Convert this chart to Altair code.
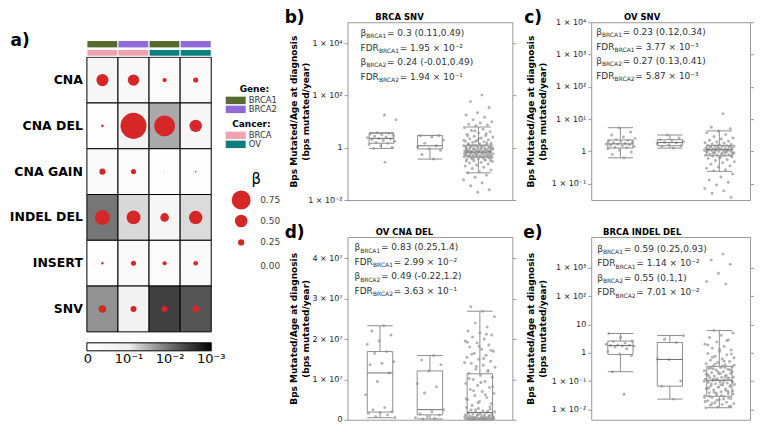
import altair as alt
import pandas as pd

FONT = "DejaVu Sans"
GROUPS = ["BRCA1", "BRCA2", "WT"]

# ---------------- panel a : beta (circle size) and FDR (cell shade) ----------------
rows = ["CNA", "CNA DEL", "CNA GAIN", "INDEL DEL", "INSERT", "SNV"]
col_keys = ["BRCA1 / BRCA", "BRCA2 / BRCA", "BRCA1 / OV", "BRCA2 / OV"]
col_gene = ["BRCA1", "BRCA2", "BRCA1", "BRCA2"]
col_cancer = ["BRCA", "BRCA", "OV", "OV"]
gene_names = ["BRCA1", "BRCA2"]
gene_colors = ["#566b2e", "#8e6bd6"]
cancer_names = ["BRCA", "OV"]
cancer_colors = ["#eda3b0", "#0b7f7f"]
cbar_labels = ["0", "10⁻¹", "10⁻²", "10⁻³"]

beta_cna = [0.48, 0.45, 0.17, 0.20]
beta_cna_del = [0.10, 1.03, 0.83, 0.49]
beta_cna_gain = [0.24, 0.20, -0.03, 0.06]
beta_indel_del = [0.59, 0.55, 0.34, 0.53]
beta_insert = [0.10, 0.20, 0.16, 0.18]
beta_snv = [0.30, 0.24, 0.23, 0.27]

fdr_cna = [0.35, 0.40, 0.60, 0.50]
fdr_cna_del = [0.80, 0.20, 0.0299, 0.363]
fdr_cna_gain = [0.50, 0.60, 0.90, 0.80]
fdr_indel_del = [0.0114, 0.0701, 0.30, 0.072]
fdr_insert = [0.80, 0.50, 0.60, 0.50]
fdr_snv = [0.0195, 0.194, 0.00377, 0.00587]

beta_rows = [beta_cna, beta_cna_del, beta_cna_gain, beta_indel_del, beta_insert, beta_snv]
fdr_rows = [fdr_cna, fdr_cna_del, fdr_cna_gain, fdr_indel_del, fdr_insert, fdr_snv]

# ---------------- panel b : BRCA SNV ----------------
b_brca1 = [0.28, 0.95, 1.05, 1.2, 1.35, 1.5, 1.6, 1.75, 1.9, 2.05, 2.2, 2.3, 2.45, 2.6, 2.8, 3.0,
           3.2, 3.4, 3.6, 3.8, 12, 18]
b_brca2 = [0.37, 0.55, 0.8, 0.93, 1.1, 1.2, 1.5, 2.0, 2.6, 2.9, 3.0]
b_wt = [107, 60, 35, 22, 18, 15, 12, 10, 9, 8, 7.5, 7,
        6.0, 5.2, 4.6, 4.1, 3.7, 3.3, 3.0, 2.8, 2.6, 2.4, 2.2, 2.05, 1.9, 1.8, 1.7, 1.6, 1.5, 1.42,
        1.35, 1.3, 1.24, 1.2, 1.15, 1.1, 1.05, 1.0, 0.97, 0.94, 0.91, 0.88, 0.85, 0.82, 0.8, 0.78,
        0.76, 0.74, 0.72, 0.7, 0.68, 0.66, 0.64, 0.62, 0.6, 0.59, 0.57, 0.56, 0.55, 0.53, 0.52,
        0.51, 0.5, 0.49, 0.48, 0.47, 0.46, 0.455, 0.44, 0.42, 0.4, 0.38, 0.36, 0.34, 0.32, 0.3,
        0.28, 0.26, 0.24, 0.22, 0.2, 0.18, 0.16, 0.14, 0.12, 0.11, 0.09, 0.075, 0.06, 0.045,
        0.035, 0.025, 0.02, 0.31, 0.35, 0.39, 0.43, 0.47, 0.5, 0.54, 0.58, 0.61, 0.65, 0.67,
        0.71, 0.75, 0.79, 0.83, 0.87, 0.9, 0.95, 0.99, 1.03, 1.08, 1.13, 1.18, 1.22, 1.28, 1.33,
        1.45, 1.55, 1.75, 1.95, 0.63, 0.69, 0.73, 0.77, 0.81, 0.86, 0.92, 1.01, 1.11, 1.26,
        0.45, 0.52, 0.58, 0.41, 0.37, 0.33, 2.3, 2.9, 3.5, 4.4]
b_q1 = [1.5, 0.91, 0.45]
b_med = [2.3, 1.2, 0.69]
b_q3 = [3.6, 2.95, 1.26]
b_lo = [0.95, 0.37, 0.11]
b_hi = [3.8, 3.0, 6.3]
b_lines = [("β", "BRCA1", "= 0.3 (0.11,0.49)"), ("FDR", "BRCA1", "= 1.95 × 10⁻²"),
           ("β", "BRCA2", "= 0.24 (-0.01,0.49)"), ("FDR", "BRCA2", "= 1.94 × 10⁻¹")]

# ---------------- panel c : OV SNV ----------------
c_brca1 = [0.63, 0.8, 0.95, 1.1, 1.2, 1.3, 1.35, 1.4, 1.5, 1.55, 1.6, 1.65, 1.7, 1.75, 1.85,
           1.95, 2.0, 2.1, 2.2, 2.3, 2.5, 2.8, 3.2, 4.0, 5.4]
c_brca2 = [1.26, 1.4, 1.5, 1.6, 1.75, 1.85, 1.9, 2.0, 2.15, 2.3, 2.6, 3.2]
c_wt = [14.7, 5.6, 5.0, 4.3, 3.8, 3.3, 2.9, 2.6, 2.4, 2.2, 2.05, 1.95, 1.85, 1.78, 1.7, 1.65,
        1.6, 1.55, 1.5, 1.47, 1.44, 1.41, 1.38, 1.35, 1.32, 1.29, 1.26, 1.23, 1.2, 1.18, 1.16,
        1.14, 1.13, 1.1, 1.07, 1.04, 1.01, 0.98, 0.95, 0.92, 0.89, 0.86, 0.83, 0.81, 0.79, 0.77,
        0.75, 0.74, 0.72, 0.68, 0.64, 0.6, 0.56, 0.52, 0.48, 0.44, 0.4, 0.36, 0.33, 0.3, 0.27,
        0.25, 0.2, 0.16, 0.13, 0.11, 0.09, 0.07, 0.06, 0.05, 0.038, 1.25, 1.15, 1.05, 0.97,
        0.9, 0.85, 1.33, 1.42, 1.48, 1.02, 0.93, 0.87, 0.7, 0.66, 1.12, 1.08, 1.19]
c_q1 = [1.27, 1.5, 0.73]
c_med = [1.7, 1.87, 1.12]
c_q3 = [2.25, 2.3, 1.52]
c_lo = [0.63, 1.26, 0.24]
c_hi = [5.4, 3.2, 4.3]
c_lines = [("β", "BRCA1", "= 0.23 (0.12,0.34)"), ("FDR", "BRCA1", "= 3.77 × 10⁻³"),
           ("β", "BRCA2", "= 0.27 (0.13,0.41)"), ("FDR", "BRCA2", "= 5.87 × 10⁻³")]

# ---------------- panel d : OV CNA DEL ----------------
d_brca1 = [2.33e7, 2.2e7, 2.1e7, 1.95e7, 1.87e7, 1.69e7, 1.65e7, 1.44e7, 1.4e7, 1.36e7, 1.16e7,
           9.5e6, 6.2e6, 3.0e6, 2.5e6, 2.0e6, 1.8e6, 1.6e6, 1.2e6, 8.0e5, 5.0e5]
d_brca2 = [1.59e7, 1.48e7, 1.36e7, 1.21e7, 9.0e6, 8.2e6, 6.6e6, 2.5e6, 2.0e6, 1.5e6, 1.2e6,
           8.0e5, 5.0e5, 3.0e5, 2.0e5]
d_wt = [0, 1e5, 2e5, 3e5, 4e5, 5e5, 6e5, 7e5, 8e5, 9e5, 1.0e6, 1.1e6, 1.2e6, 1.3e6, 1.4e6, 1.5e6,
        1.6e6, 1.7e6, 1.8e6, 1.9e6, 2.0e6, 2.2e6, 2.4e6, 2.6e6, 2.8e6, 3.0e6, 5e4, 1.5e5, 2.5e5,
        3.5e5, 4.5e5, 5.5e5, 6.5e5, 7.5e5, 8.5e5, 3.5e6, 4.0e6, 4.5e6, 5.0e6, 5.5e6, 6.0e6, 6.5e6,
        7.0e6, 7.5e6, 8.0e6, 8.5e6, 9.0e6, 9.5e6, 1.0e7, 1.05e7, 1.1e7, 1.15e7, 1.2e7, 1.25e7,
        1.3e7, 1.35e7, 1.4e7, 1.45e7, 1.5e7, 1.55e7, 1.6e7, 1.65e7, 1.7e7, 1.75e7, 1.8e7, 1.85e7,
        1.9e7, 1.95e7, 2.0e7, 2.05e7, 2.1e7, 2.15e7, 2.2e7, 2.3e7, 2.4e7, 2.55e7, 2.69e7, 2.8e7,
        3.2e6, 4.2e6, 5.2e6, 6.2e6, 7.2e6, 8.2e6, 9.2e6, 1.02e7, 1.22e7, 1.32e7, 1.42e7, 1.52e7,
        1.62e7, 1.72e7, 1.82e7, 1.92e7, 2.12e7, 1.5e5, 3.0e5, 4.5e5, 6.0e5, 9.5e5, 1.25e6,
        2.0e5, 4.0e5, 7.0e5, 1.05e6, 1.35e6, 1.65e6, 2.1e6, 2.5e6]
d_q1 = [1.9e6, 1.2e6, 4.0e5]
d_med = [1.16e7, 2.5e6, 1.8e6]
d_q3 = [1.69e7, 1.21e7, 1.14e7]
d_lo = [5.0e5, 2.0e5, 0]
d_hi = [2.33e7, 1.59e7, 2.69e7]
d_lines = [("β", "BRCA1", "= 0.83 (0.25,1.4)"), ("FDR", "BRCA1", "= 2.99 × 10⁻²"),
           ("β", "BRCA2", "= 0.49 (-0.22,1.2)"), ("FDR", "BRCA2", "= 3.63 × 10⁻¹")]

# ---------------- panel e : BRCA INDEL DEL ----------------
e_brca1 = [0.034, 0.215, 0.8, 0.9, 1.1, 1.4, 1.6, 1.7, 1.75, 1.8, 1.85, 1.9, 2.0, 2.2, 2.5, 2.6,
           3.5, 4.8]
e_brca2 = [0.023, 0.066, 0.1, 0.58, 0.6, 2.3, 3.0, 4.06]
e_wt = [3100, 1900, 1350, 650, 330, 270,
        6.1, 5.0, 4.2, 3.5, 2.9, 2.4, 2.0, 1.7, 1.45, 1.25, 1.1, 0.95, 0.85, 0.75, 0.67, 0.6, 0.54,
        0.49, 0.45, 0.41, 0.38, 0.35, 0.32, 0.3, 0.28, 0.26, 0.245, 0.23, 0.215, 0.2, 0.19, 0.18,
        0.17, 0.16, 0.15, 0.14, 0.135, 0.13, 0.125, 0.12, 0.115, 0.11, 0.105, 0.1, 0.095, 0.09,
        0.085, 0.08, 0.076, 0.072, 0.068, 0.064, 0.06, 0.056, 0.052, 0.048, 0.045, 0.042, 0.039,
        0.036, 0.033, 0.03, 0.028, 0.026, 0.024, 0.022, 0.02, 0.018, 0.017, 0.016, 0.015, 0.014,
        0.013, 0.012, 0.0115, 0.31, 0.27, 0.22, 0.185, 0.155, 0.128, 0.108, 0.098, 0.088, 0.078,
        0.07, 0.062, 0.054, 0.047, 0.04, 0.035, 0.031, 0.029, 0.025, 0.021, 0.019, 0.5, 0.7,
        0.9, 1.3, 1.9, 2.7, 0.4, 0.36, 0.34, 0.29, 0.25, 0.21, 0.175, 0.145, 0.118, 0.092,
        0.074, 0.058, 0.044, 0.037, 0.027, 0.023, 0.016, 0.013]
e_q1 = [0.87, 0.066, 0.029]
e_med = [1.8, 0.58, 0.107]
e_q3 = [2.6, 2.3, 0.33]
e_lo = [0.215, 0.023, 0.0114]
e_hi = [4.8, 4.06, 6.1]
e_lines = [("β", "BRCA1", "= 0.59 (0.25,0.93)"), ("FDR", "BRCA1", "= 1.14 × 10⁻²"),
           ("β", "BRCA2", "= 0.55 (0.1,1)"), ("FDR", "BRCA2", "= 7.01 × 10⁻²")]

YTITLE = ["Bps Mutated/Age at diagnosis", "(bps mutated/year)"]
BOXC = "#8f8f8f"
MEDC = "#707070"
SUP = "['⁻³','⁻²','⁻¹','⁰','¹','²','³','⁴']"
LOG_EXPR = "datum.value == 1 ? '1' : '1 × 10' + " + SUP + "[round(log(datum.value)/LN10) + 3]"
LOG_EXPR_E = ("datum.value == 1 ? '1' : datum.value == 10 ? '10' : '1 × 10' + " + SUP +
              "[round(log(datum.value)/LN10) + 3]")
LIN_EXPR = "datum.value == 0 ? '0' : format(datum.value / 1e7, 'd') + ' × 10⁷'"


def txt(s, x, y, size, weight="normal", align="left", color="#333333"):
    return alt.Chart(alt.Data(values=[{"t": s}])).mark_text(
        align=align, baseline="alphabetic", font=FONT, fontSize=size,
        fontWeight=weight, color=color
    ).encode(text="t:N", x=alt.value(x), y=alt.value(y))


# ---------------- build panel a ----------------
recs = []
for r, br, fr in zip(rows, beta_rows, fdr_rows):
    for c, b, f in zip(col_keys, br, fr):
        recs.append({"row": r, "col": c, "beta": b, "fdr": f})
df_a = pd.DataFrame(recs)
df_cols = pd.DataFrame({"col": col_keys, "gene": col_gene, "cancer": col_cancer})

GRID_W = 124.5
x_cols = alt.X("col:N", title=None, axis=None,
               scale=alt.Scale(domain=col_keys, range=[0, GRID_W], paddingInner=0, paddingOuter=0))
y_rows = alt.Y("row:N", title=None,
               scale=alt.Scale(domain=rows, range=[35, 310], paddingInner=0, paddingOuter=0),
               axis=alt.Axis(labelFont=FONT, labelFontSize=12.5, labelFontWeight="bold",
                             labelColor="black", ticks=False, domain=False, labelPadding=4.5))

cells = alt.Chart(df_a).transform_calculate(nlf="-log(datum.fdr)/LN10").mark_rect(
    stroke="black", strokeWidth=1
).encode(
    x=x_cols, y=y_rows,
    color=alt.Color("nlf:Q",
                    scale=alt.Scale(domain=[0, 1, 3], range=["#ffffff", "#eeeeee", "#000000"], clamp=True),
                    legend=alt.Legend(title=None, orient="none", legendX=0, legendY=321,
                                      direction="horizontal", gradientLength=GRID_W, gradientThickness=8,
                                      gradientStrokeColor="black", gradientStrokeWidth=1,
                                      values=[0, 1, 2, 3], labelExpr="''",
                                      labelFont=FONT, labelFontSize=13, labelOffset=3,
                                      labelOverlap=False))
)

# colour-bar tick labels, centred under the 0, 1, 2, 3 (= -log10 FDR) stops of the gradient
cbar_text = [txt(lbl, 1 + (GRID_W - 1) * k / 3, 341.5, 13, "normal", "center", "black")
             for k, lbl in enumerate(cbar_labels)]

circles = alt.Chart(df_a).transform_calculate(absb="abs(datum.beta)").mark_circle(opacity=1).encode(
    x=x_cols, y=y_rows,
    size=alt.Size("absb:Q",
                  scale=alt.Scale(type="pow", exponent=2, domain=[0, 1], range=[0, 640]),
                  legend=alt.Legend(title="β", orient="none", legendX=144.5, legendY=150,
                                    values=[0.75, 0.5, 0.25, 0.0], format=".2f",
                                    titleFont=FONT, titleFontSize=15, titleFontWeight="normal",
                                    titleColor="black", titleAnchor="middle", titlePadding=3,
                                    labelFont=FONT, labelFontSize=9, labelColor="#444444",
                                    labelOffset=9, symbolFillColor="#d62728",
                                    symbolStrokeColor="#8a1a1a", symbolStrokeWidth=1,
                                    symbolOpacity=1, symbolType="circle", rowPadding=0,
                                    gridAlign="all")),
    color=alt.condition("datum.beta < 0", alt.value("#3b6fd0"), alt.value("#d62728")),
)

SWATCH = "M-2.67,-1H2.67V1H-2.67Z"


def swatch_legend(title, ly):
    return alt.Legend(title=title, orient="none", legendX=144.75, legendY=ly,
                      titleFont=FONT, titleFontSize=9, titleFontWeight="bold",
                      titleColor="black", titleAnchor="middle", titlePadding=2,
                      labelFont=FONT, labelFontSize=8.5, labelColor="#333333",
                      labelOffset=8.7, symbolType=SWATCH, symbolSize=56,
                      symbolStrokeWidth=0, rowPadding=0)


gene_bar = alt.Chart(df_cols).mark_rect(stroke="white", strokeWidth=1).encode(
    x=x_cols, y=alt.value(18.3), y2=alt.value(25.7),
    color=alt.Color("gene:N", scale=alt.Scale(domain=gene_names, range=gene_colors),
                    legend=swatch_legend("Gene:", 63)),
)
cancer_bar = alt.Chart(df_cols).mark_rect(stroke="white", strokeWidth=1).encode(
    x=x_cols, y=alt.value(27.3), y2=alt.value(34),
    color=alt.Color("cancer:N", scale=alt.Scale(domain=cancer_names, range=cancer_colors),
                    legend=swatch_legend("Cancer:", 98)),
)

A = alt.layer(
    cells, circles, gene_bar, cancer_bar, *cbar_text,
    txt("a)", -76.5, 24, 17, "bold", "left", "black"),
).resolve_scale(color="independent").properties(
    width=181.5, height=178, view=alt.ViewBackground(stroke="transparent"))


# ---------------- build box panels ----------------
def panel(vals, stats, ytype, ydomain, yvals, ylabexpr, xdomain, w, h,
          title, title_x, letter, letter_x, lines, tx, ty, ytitle_x):
    recs = [{"group": g, "value": v} for g, vs in zip(GROUPS, vals) for v in vs]
    df_pts = pd.DataFrame(recs)
    q1, med, q3, lo, hi = stats
    df_box = pd.DataFrame({"group": GROUPS, "q1": q1, "med": med, "q3": q3, "lo": lo, "hi": hi})
    xs = alt.Scale(domain=xdomain, nice=False, zero=False)
    ys = alt.Scale(type=ytype, domain=ydomain, nice=False, zero=False)
    x_axis = alt.Axis(values=[1, 2, 3], labelExpr="['', 'BRCA1', 'BRCA2', 'WT'][datum.value]",
                      labelFont=FONT, labelFontSize=8.5, labelFontWeight="bold", labelColor="black",
                      tickSize=3.5, tickColor="#999999", domain=False, grid=False, labelPadding=2)
    y_axis = alt.Axis(orient="left", values=yvals, labelExpr=ylabexpr, labelFont=FONT,
                      labelFontSize=8, labelColor="#222222", tickSize=3.5, tickColor="#999999",
                      domain=False, grid=False, labelPadding=2, titleFont=FONT, titleFontSize=9,
                      titleFontWeight="bold", titleColor="black", titleX=ytitle_x,
                      titleBaseline="bottom", titleAlign="center", titleAngle=270,
                      titleLineHeight=12)
    y_axis_r = alt.Axis(orient="right", values=yvals, labels=False, tickSize=3.5,
                        tickColor="#999999", domain=False, grid=False)
    pos_expr = "indexof(['BRCA1','BRCA2','WT'], datum.group) + 1"

    pts = alt.Chart(df_pts).transform_window(
        i="row_number()", groupby=["group"]
    ).transform_calculate(
        xj=pos_expr + " + ((datum.i * 0.6180339887) % 1 - 0.5) * 0.62"
    ).mark_circle(size=9, color="#a0a0a0", opacity=0.8).encode(
        x=alt.X("xj:Q", scale=xs, axis=x_axis, title=None),
        y=alt.Y("value:Q", scale=ys, axis=y_axis, title=YTITLE),
    )
    bb = alt.Chart(df_box).transform_calculate(pos=pos_expr).transform_calculate(
        xl="datum.pos - 0.255", xr="datum.pos + 0.255")
    box = bb.mark_rect(fill="transparent", stroke=BOXC, strokeWidth=1).encode(
        x=alt.X("xl:Q", scale=xs, axis=None), x2="xr:Q",
        y=alt.Y("q1:Q", scale=ys, axis=y_axis_r, title=None), y2="q3:Q")
    w_up = bb.mark_rule(color=BOXC).encode(
        x=alt.X("pos:Q", scale=xs, axis=None),
        y=alt.Y("q3:Q", scale=ys, axis=None), y2="hi:Q")
    w_dn = bb.mark_rule(color=BOXC).encode(
        x=alt.X("pos:Q", scale=xs, axis=None),
        y=alt.Y("lo:Q", scale=ys, axis=None), y2="q1:Q")
    cap_up = bb.mark_rule(color=BOXC).encode(
        x=alt.X("xl:Q", scale=xs, axis=None), x2="xr:Q",
        y=alt.Y("hi:Q", scale=ys, axis=None))
    cap_dn = bb.mark_rule(color=BOXC).encode(
        x=alt.X("xl:Q", scale=xs, axis=None), x2="xr:Q",
        y=alt.Y("lo:Q", scale=ys, axis=None))
    median = bb.mark_rule(color=MEDC).encode(
        x=alt.X("xl:Q", scale=xs, axis=None), x2="xr:Q",
        y=alt.Y("med:Q", scale=ys, axis=None))

    layers = [pts, box, w_up, w_dn, cap_up, cap_dn, median,
              txt(title, title_x, -2, 8.5, "bold", "center", "black"),
              txt(letter, letter_x, 1, 17, "bold", "left", "black")]
    for k, (a, sub, rest) in enumerate(lines):
        y = ty + 14.5 * k
        w1 = 5.7 if a == "β" else 18.4
        layers.append(txt(a, tx, y, 9))
        layers.append(txt(sub, tx + w1, y + 2.2, 6))
        layers.append(txt(rest, tx + w1 + 20.8, y, 9))
    return alt.layer(*layers).properties(
        width=w, height=h, view=alt.ViewBackground(stroke="#9a9a9a", strokeWidth=1))


B = panel([b_brca1, b_brca2, b_wt], [b_q1, b_med, b_q3, b_lo, b_hi], "log", [0.01, 65000],
          [0.01, 1, 100, 10000], LOG_EXPR, [0.3, 3.7], 165, 178,
          "BRCA SNV", 52, "b)", -63, b_lines, 13, 14, -49)
C = panel([c_brca1, c_brca2, c_wt], [c_q1, c_med, c_q3, c_lo, c_hi], "log", [0.031, 10000],
          [0.1, 1, 10, 100, 1000, 10000], LOG_EXPR, [0.41, 3.62], 159, 178,
          "OV SNV", 51, "c)", -67, c_lines, 5, 13, -55.5)
D = panel([d_brca1, d_brca2, d_wt], [d_q1, d_med, d_q3, d_lo, d_hi], "linear", [0, 4.53e7],
          [0, 1e7, 2e7, 3e7, 4e7], LIN_EXPR, [0.35, 3.65], 165, 183,
          "OV CNA DEL", 57, "d)", -63, d_lines, 7, 13.5, -49)
E = panel([e_brca1, e_brca2, e_wt], [e_q1, e_med, e_q3, e_lo, e_hi], "log", [0.0043, 12400],
          [0.01, 0.1, 1, 10, 100, 1000], LOG_EXPR_E, [0.41, 3.62], 159, 183,
          "BRCA INDEL DEL", 51, "e)", -68, e_lines, 6, 15, -55.5)

spacer = alt.Chart(alt.Data(values=[{"t": ""}])).mark_text().encode(text="t:N").properties(
    width=10, height=10, view=alt.ViewBackground(stroke="transparent"))

chart = alt.concat(
    A, B, C, spacer, D, E,
    columns=3, spacing={"row": 37, "column": 79}, bounds="flush", align="each",
).resolve_scale(color="independent", size="independent").properties(padding=0).configure(
    font=FONT).configure_view(stroke="transparent")

chart.save("out.html", embed_options={"renderer": "svg", "actions": False})
